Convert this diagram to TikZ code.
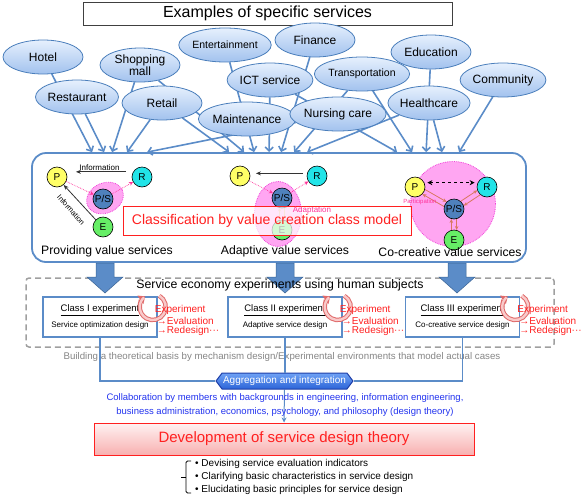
\documentclass[tikz,border=0pt]{standalone}
\usepackage{fontspec}
\setmainfont{Liberation Sans}
\usetikzlibrary{arrows.meta,shapes.geometric,shapes.symbols,backgrounds}
\definecolor{svcblue}{HTML}{5B8CC8}
\definecolor{svcedge}{HTML}{4A7EBB}
\definecolor{ellipsetop}{HTML}{E6F0FD}
\definecolor{ellipsebot}{HTML}{A2C2EE}
\definecolor{pcol}{HTML}{FFFF66}
\definecolor{rcol}{HTML}{22E4E8}
\definecolor{pscol}{HTML}{4F81BD}
\definecolor{ecol}{HTML}{66EE66}
\definecolor{pinkzone}{HTML}{FFA6F2}
\definecolor{pinkline}{HTML}{F040D8}
\definecolor{pinkarrow}{HTML}{FF3399}
\definecolor{salmon}{HTML}{D9785F}
\definecolor{adaptcol}{HTML}{F0A080}
\definecolor{redtext}{HTML}{FF2020}
\definecolor{graytext}{HTML}{858585}
\definecolor{collabblue}{HTML}{2233EE}
\definecolor{aggtop}{HTML}{6FA2F5}
\definecolor{aggbot}{HTML}{2C64D8}
\definecolor{aggedge}{HTML}{1F3FA8}
\definecolor{devtop}{HTML}{FFF2F2}
\definecolor{devbot}{HTML}{F8B0B0}
\definecolor{cyclefill}{HTML}{F9CACA}
\definecolor{cycleedge}{HTML}{E06A6A}
\newcommand{\fsz}[2]{\fontsize{#1}{#2}\selectfont}

\begin{document}
\begin{tikzpicture}[x=1pt,y=-1pt,
  service/.style={ellipse, draw=svcedge, line width=0.8pt, top color=ellipsetop, bottom color=ellipsebot,
    minimum width=80, minimum height=34, inner sep=0pt, font=\fsz{12}{12}, align=center},
  svcarrow/.style={draw=svcblue, line width=1.6pt, -{Straight Barb[length=4pt,width=8pt]}},
  agent/.style={circle, draw=black, line width=0.6pt, minimum size=20, inner sep=0pt, font=\fsz{10}{10}},
  zone/.style={fill=pinkzone, draw=pinkline, densely dotted, line width=0.8pt, inner sep=0pt},
  valarrow/.style={draw=pinkarrow, densely dotted, line width=0.7pt, -{Stealth[length=4pt,width=4pt]}},
  infoarrow/.style={draw=black!80, line width=0.8pt, -{Stealth[length=5pt,width=4pt]}},
  coarrow/.style={draw=salmon, line width=0.8pt, -{Stealth[length=4pt,width=3.5pt]}},
  adaptarrow/.style={draw=adaptcol, line width=0.8pt, -{Stealth[length=3pt,width=3pt]}},
  kind/.style={font=\fsz{12.2}{13}},
  classbox/.style={draw=svcblue, line width=1.5pt, fill=white, minimum width=114, minimum height=40,
    align=center, inner sep=0pt, font=\fsz{9.5}{11.5}},
  redlab/.style={text=redtext, font=\fsz{10}{10}, inner sep=0pt, anchor=west},
  link/.style={draw=svcblue, line width=1.5pt}]
\useasboundingbox (0,0) rectangle (583,501);

\node[draw=black!75, line width=1pt, minimum width=369, minimum height=23, font=\fsz{16}{16}] (title) at (267.5,13.5) {Examples of specific services};

\node[service] (hotel) at (43,57) {Hotel};
\node[service] (restaurant) at (77,97) {Restaurant};
\node[service] (mall) at (140,65) {Shopping\\mall};
\node[service] (retail) at (162,103) {Retail};
\node[service, font=\fsz{10.5}{12}] (entertain) at (225,45) {Entertainment};
\node[service] (ict) at (270,80) {ICT service};
\node[service] (maint) at (247,119) {Maintenance};
\node[service] (finance) at (315,40) {Finance};
\node[service, font=\fsz{10.5}{12}] (transport) at (362,74) {Transportation};
\node[service] (nursing) at (338,114) {Nursing care};
\node[service] (education) at (431,52) {Education};
\node[service] (health) at (429,103) {Healthcare};
\node[service] (community) at (503,80) {Community};

\node[draw=svcblue, line width=1.8pt, rounded corners=14pt, minimum width=494, minimum height=109] (valuebox) at (279,207.5) {};

\begin{pgfonlayer}{background}
\foreach \src/\dx in {hotel/61, restaurant/73, mall/81, mall/213, retail/96, retail/198, nursing/116,
    entertain/223, ict/238, ict/366, finance/250, transport/263, transport/381, health/276, health/411,
    education/395, community/428}
  \draw[svcarrow] (\src) -- ([xshift=\dx pt]valuebox.north west);
\end{pgfonlayer}

\node[zone, ellipse, minimum width=38, minimum height=30, rotate=25] (zone1) at (105,198) {};
\node[agent, fill=pcol] (p1) at (57,177) {P};
\node[agent, fill=rcol] (r1) at (142,177) {R};
\node[agent, fill=pscol] (ps1) at (103,199) {P/S};
\node[agent, fill=ecol] (e1) at (103,227) {E};
\draw[infoarrow, shorten <=7pt, shorten >=10pt] (r1.150) -- (p1.30) node[midway, above, font=\fsz{8}{8}, inner sep=1pt] {Information};
\draw[infoarrow] (e1.135) -- (p1.-50);
\node[rotate=-49, font=\fsz{7.5}{8}, inner sep=0pt] (infolab) at (71,210) {Information};
\draw[valarrow] (p1) -- (ps1);
\draw[valarrow] (ps1) -- (r1);
\node[kind] (kind1) at (107,251) {Providing value services};

\node[zone, ellipse, minimum width=47, minimum height=65] (zone2) at (278,214) {};
\node[agent, fill=pcol] (p2) at (240,176) {P};
\node[agent, fill=rcol] (r2) at (317,176) {R};
\node[agent, fill=pscol] (ps2) at (282,198) {P/S};
\node[agent, fill=ecol] (e2) at (282,230) {E};
\draw[infoarrow, shorten <=4pt, shorten >=6pt] (r2.165) -- (p2.15);
\draw[valarrow] (p2) -- (ps2);
\draw[valarrow] (ps2) -- (r2);
\draw[adaptarrow] ([xshift=-2.5pt]e2.north) -- ([xshift=-2.5pt]ps2.south);
\draw[adaptarrow] ([xshift=2.5pt]ps2.south) -- ([xshift=2.5pt]e2.north);
\node[kind] (kind2) at (285,251) {Adaptive value services};

\node[zone, circle, minimum size=85] (zone3) at (453,204) {};
\node[agent, fill=pcol] (p3) at (415,187) {P};
\node[agent, fill=rcol] (r3) at (487,187) {R};
\node[agent, fill=pscol] (ps3) at (454,209) {P/S};
\node[agent, fill=ecol] (e3) at (454,240) {E};
\draw[dashed, line width=0.9pt, {Stealth[length=5pt,width=5pt]}-{Stealth[length=5pt,width=5pt]}, shorten <=3pt, shorten >=3pt] (p3.25) -- (r3.155);
\draw[coarrow] (p3.-14) -- (ps3.136);
\draw[coarrow] (ps3.166) -- (p3.-44);
\draw[coarrow] (r3.-131) -- (ps3.19);
\draw[coarrow] (ps3.49) -- (r3.-161);
\draw[coarrow] (ps3.-75) -- (e3.75);
\draw[coarrow] (e3.105) -- (ps3.-105);
\node[text=pinkarrow, font=\fsz{6}{6}, inner sep=0pt] (partlab) at (420,202) {Participation};
\node[kind] (kind3) at (450,252) {Co-creative value services};

\node[draw=redtext, line width=1pt, fill=white, fill opacity=0.72, text opacity=1, text=redtext,
  minimum width=288, minimum height=29, font=\fsz{14}{14}] (classify) at (267,220.5) {Classification by value creation class model};
\node[text=pinkarrow, font=\fsz{8}{8}, inner sep=0pt] (adaptlab) at (312,210) {Adaptation};

\node[draw=gray!75, dash pattern=on 6pt off 4pt, line width=1.5pt, rounded corners=3pt, minimum width=528, minimum height=69] (dashbox) at (290,312.5) {};
\foreach \bx in {105,285,457}
  \fill[svcblue, draw=svcedge!80!black, line width=0.5pt] (\bx-9,263) -- (\bx-9,277) -- (\bx-18,277) -- (\bx,293) -- (\bx+18,277) -- (\bx+9,277) -- (\bx+9,263) -- cycle;
\node[font=\fsz{12.3}{13}] (econtitle) at (280,285) {Service economy experiments using human subjects};

\node[classbox] (cls1) at (100,317) {\underline{Class I experiment}\\[4pt]{\fsz{8}{9}Service optimization design}};
\node[classbox] (cls2) at (285,317) {\underline{Class II experiment}\\[4pt]{\fsz{8}{9}Adaptive service design}};
\node[classbox] (cls3) at (462.5,317) {\underline{Class III experiment}\\[4pt]{\fsz{8}{9}Co-creative service design}};

\foreach \c in {cls1,cls2,cls3} {
  \draw[cycleedge, line width=4.4pt, -{Triangle[length=6pt,width=10pt]}] ([xshift=-5pt,yshift=10pt]\c.east) ++(-60:13) arc[start angle=-60, end angle=235, radius=13];
  \draw[cyclefill, line width=2.4pt] ([xshift=-5pt,yshift=10pt]\c.east) ++(-60:13) arc[start angle=-60, end angle=228, radius=13];
  \node[redlab] at ([xshift=-3pt,yshift=7pt]\c.east) {Experiment};
  \node[redlab] at ([xshift=-1pt,yshift=-4pt]\c.east) {→Evaluation};
  \node[redlab] at ([xshift=-1pt,yshift=-14pt]\c.east) {→Redesign···};
}

\node[text=graytext, font=\fsz{9.7}{10}] (basis) at (282,357) {Building a theoretical basis by mechanism design/Experimental environments that model actual cases};

\node[signal, signal to=west and east, signal pointer angle=106, minimum width=135, minimum height=16, inner sep=1pt,
  top color=aggtop, bottom color=aggbot, draw=aggedge, line width=1pt, text=white, font=\fsz{10}{10}] (agg) at (284.5,381) {Aggregation and integration};
\draw[link] (cls1.south) |- (agg.west);
\draw[link] (cls2.south) -- (cls2.south |- agg.north);
\draw[link] (cls3.south) |- (agg.east);

\node[text=collabblue, align=center, font=\fsz{9.5}{13.5}] (collab) at (285,405) {Collaboration by members with backgrounds in engineering, information engineering,\\business administration, economics, psychology, and philosophy (design theory)};

\node[draw=redtext, line width=1pt, top color=devtop, bottom color=devbot, minimum width=380, minimum height=32,
  text=redtext, font=\fsz{15}{15}] (dev) at (284,439) {Development of service design theory};
\begin{pgfonlayer}{background}
\draw[svcblue, line width=1pt, -{Stealth[length=5pt,width=5pt]}] (agg.south) -- (dev.north);
\end{pgfonlayer}

\node[anchor=west, align=left, font=\fsz{10}{13}, inner sep=0pt] (goals) at (195,477) {• Devising service evaluation indicators\\• Clarifying basic characteristics in service design\\• Elucidating basic principles for service design};
\draw[line width=0.8pt, rounded corners=1.5pt] (191,461) -- (186,461) -- (186,493) -- (191,493);
\draw[line width=0.8pt] (186,477) -- (181,477);
\end{tikzpicture}
\end{document}
